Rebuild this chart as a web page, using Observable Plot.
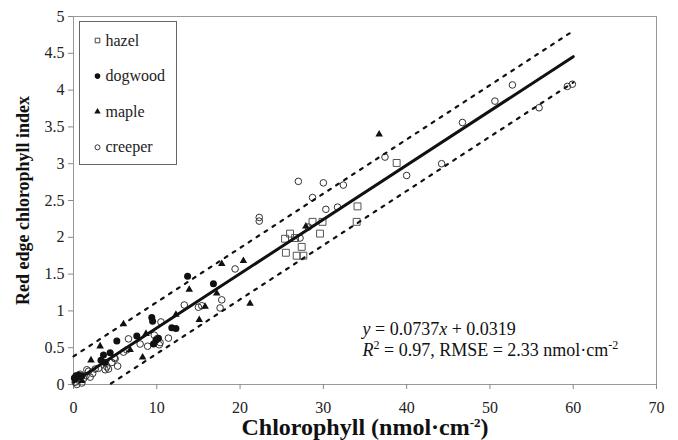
<!DOCTYPE html>
<html><head><meta charset="utf-8">
<script src="https://cdn.jsdelivr.net/npm/d3@7"></script>
<script src="https://cdn.jsdelivr.net/npm/@observablehq/plot@0.6"></script>
<style>body{margin:0;background:#fff}#chart{width:678px;height:440px}#chart svg text{font-family:"Liberation Serif","Times New Roman",serif}</style>
</head><body><div id="chart"></div>
<script>
// ---- data: [chlorophyll, index] ----
const hazel = [[38.8,3.01],[34.1,2.42],[34.0,2.21],[28.7,2.21],[29.9,2.21],[29.6,2.05],[26.0,2.05],[25.4,1.98],[26.6,1.99],[27.4,1.87],[25.5,1.79],[26.8,1.75],[27.6,1.75]];
const dogwood = [[13.7,1.47],[16.8,1.37],[9.4,0.91],[9.5,0.86],[11.8,0.77],[12.3,0.76],[10.2,0.63],[9.9,0.60],[7.6,0.66],[5.2,0.59],[4.4,0.43],[3.6,0.40],[3.3,0.33],[3.8,0.30],[9.6,0.55],[0.1,0.09],[0.3,0.12],[0.6,0.13],[1.0,0.12]];
const maple = [[36.7,3.40],[17.8,1.64],[20.4,1.68],[13.9,1.29],[17.2,1.24],[21.2,1.10],[15.8,1.06],[15.1,0.88],[6.0,0.82],[12.3,0.95],[3.2,0.52],[2.1,0.33],[6.8,0.47],[8.3,0.37],[8.7,0.69],[27.9,2.15],[1.0,0.05]];
const creeper = [[52.7,4.07],[50.6,3.85],[46.7,3.56],[55.9,3.76],[59.3,4.05],[59.9,4.08],[37.4,3.09],[40.0,2.84],[44.2,3.0],[32.4,2.71],[27.0,2.76],[30.0,2.74],[28.7,2.54],[30.3,2.38],[31.7,2.41],[28.2,2.14],[27.2,1.99],[22.3,2.27],[22.3,2.22],[19.4,1.57],[17.8,1.15],[17.6,1.04],[15.0,1.05],[15.4,1.07],[13.3,1.08],[10.5,0.85],[9.7,0.67],[11.4,0.63],[6.6,0.62],[6.4,0.47],[8.0,0.55],[8.9,0.52],[10.0,0.62],[10.3,0.54],[10.4,0.57],[4.9,0.36],[4.6,0.30],[4.0,0.24],[3.8,0.20],[5.3,0.25],[4.2,0.21],[6.0,0.44],[2.6,0.21],[1.8,0.18],[2.0,0.10],[0.8,0.14],[1.2,0.08],[0.4,0.0],[0.2,0.03],[0.6,0.06],[1.5,0.12],[2.3,0.15],[3.0,0.22],[1.0,0.02],[0.3,0.1],[1.6,0.2],[5.0,0.35]];
const fitLine = [[0,0.0319],[60,4.4539]];
const upperBand = [[0,0.382],[60,4.804]];
const lowerBand = [[4.5,0.013],[60,4.104]];
const xTicks = [0,10,20,30,40,50,60,70];
const yTicks = [0,0.5,1,1.5,2,2.5,3,3.5,4,4.5,5];
const legendLabels = ["hazel","dogwood","maple","creeper"];
const EQ1 = "y = 0.0737x + 0.0319";
const EQ2 = "R2 = 0.97, RMSE = 2.33 nmol·cm-2";
const XLABEL = "Chlorophyll (nmol·cm-2)";
const YLABEL = "Red edge chlorophyll index";

const font = "Liberation Serif, Times New Roman, serif";
const X = d => d[0], Y = d => d[1];
const legendStyle = [
  {symbol:"square", r:2.6, stroke:"#444", fill:"none", strokeWidth:1},
  {symbol:"circle", r:2.8, fill:"#111", stroke:"none"},
  {symbol:"triangle", r:2.4, fill:"#111", stroke:"none"},
  {symbol:"circle", r:2.5, stroke:"#333", fill:"none", strokeWidth:1}
];
const legendMarks = legendLabels.flatMap((lab, i) => [
  Plot.dot([lab], {frameAnchor:"top-left", dx:24, dy:24 + i*35.6, ...legendStyle[i]}),
  Plot.text([lab], {frameAnchor:"top-left", dx:32, dy:24 + i*35.6, text:d=>d, textAnchor:"start", lineAnchor:"middle", fontSize:16, fill:"#222"})
]);

const plot = Plot.plot({
  width:678, height:440, marginLeft:73, marginRight:22, marginTop:16, marginBottom:56,
  style:{fontFamily:font, fontSize:"16px", color:"#222", background:"white"},
  x:{domain:[0,70]},
  y:{domain:[0,5]},
  marks:[
    Plot.frame({stroke:"#999"}),
    Plot.axisX({ticks:xTicks, tickSize:5, tickPadding:12, stroke:"#888", fill:"#222", fontSize:16, label:null, tickFormat:d=>String(d)}),
    Plot.axisY({ticks:yTicks, tickSize:5, tickPadding:4, stroke:"#888", fill:"#222", fontSize:16, label:null, tickFormat:d=>String(d)}),
    Plot.dot(hazel, {x:X, y:Y, symbol:"square", r:3.9, stroke:"#555", fill:"none", strokeWidth:1}),
    Plot.dot(creeper, {x:X, y:Y, symbol:"circle", r:3.3, stroke:"#333", fill:"none", strokeWidth:1}),
    Plot.dot(dogwood, {x:X, y:Y, symbol:"circle", r:3.5, fill:"#111", stroke:"none"}),
    Plot.dot(maple, {x:X, y:Y, symbol:"triangle", r:2.8, fill:"#111", stroke:"none"}),
    Plot.line(upperBand, {x:X, y:Y, stroke:"#111", strokeWidth:2.2, strokeDasharray:"3,6.5"}),
    Plot.line(lowerBand, {x:X, y:Y, stroke:"#111", strokeWidth:2.2, strokeDasharray:"3,6.5"}),
    Plot.line(fitLine, {x:X, y:Y, stroke:"#111", strokeWidth:3}),
    Plot.frame({insetLeft:6, insetTop:5, insetRight:480, insetBottom:220, stroke:"#666"}),
    ...legendMarks,
    Plot.text([EQ1], {frameAnchor:"top-left", dx:289, dy:313, text:d=>d, textAnchor:"start", lineAnchor:"middle", fontSize:18, fill:"#111"}),
    Plot.text([EQ2], {frameAnchor:"top-left", dx:289, dy:334, text:d=>d, textAnchor:"start", lineAnchor:"middle", fontSize:18, fill:"#111"}),
    Plot.text([XLABEL], {frameAnchor:"bottom", dy:43, text:d=>d, textAnchor:"middle", lineAnchor:"middle", fontSize:24, fontWeight:"bold", fill:"#111"}),
    Plot.text([YLABEL], {frameAnchor:"left", dx:-50, rotate:-90, text:d=>d, textAnchor:"middle", lineAnchor:"middle", fontSize:18, fontWeight:"bold", fill:"#111"})
  ]
});
document.getElementById("chart").appendChild(plot);

const sup = (s, k) => `<tspan dy="-${k}" font-size="${k + 5}">${s}</tspan>`;
const sel = d3.select(plot).selectAll("text");
sel.style("font-family", "'Liberation Serif', 'Times New Roman', serif");
sel.each(function(){
  const t = this.textContent;
  if (t === EQ1) this.innerHTML = `<tspan font-style="italic">y</tspan> = 0.0737<tspan font-style="italic">x</tspan> + 0.0319`;
  else if (t === EQ2) this.innerHTML = `<tspan font-style="italic">R</tspan>${sup("2", 7)}<tspan dy="7"> = 0.97, RMSE = 2.33 nmol·cm</tspan>${sup("-2", 7)}`;
  else if (t === XLABEL) this.innerHTML = `Chlorophyll (nmol·cm${sup("-2", 8)}<tspan dy="8">)</tspan>`;
});
</script></body></html>
